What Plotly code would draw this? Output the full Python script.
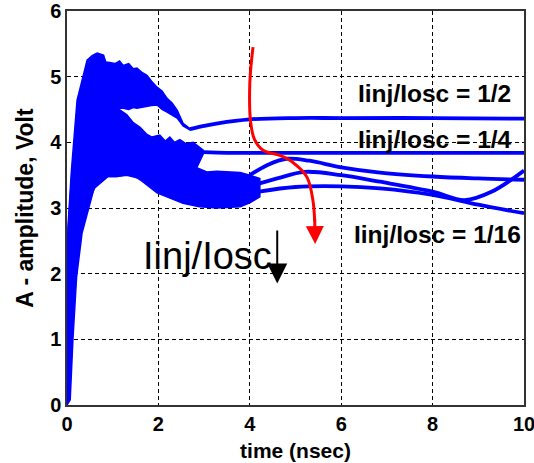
import plotly.graph_objects as go

# Time axis in ns, amplitude in volts
x_ticks = [0, 2, 4, 6, 8, 10]
y_ticks = [0, 1, 2, 3, 4, 5, 6]

# Iinj/Iosc = 1/2 : fast oscillating envelope, then settled trace
c1_env_t = [0, 0.02, 0.1, 0.22, 0.44, 0.55, 0.66, 0.8, 0.85, 0.9, 1.05, 1.15, 1.23, 1.35, 1.45, 1.53,
            1.65, 1.75, 1.85, 1.97, 2.08, 2.19, 2.3, 2.41, 2.54, 2.69]
c1_env_hi = [0, 2.7, 3.6, 4.64, 5.25, 5.32, 5.36, 5.33, 5.22, 5.22, 5.2, 5.24, 5.17, 5.2, 5.12, 5.13,
             5.06, 5.02, 4.93, 4.84, 4.78, 4.67, 4.6, 4.49, 4.29, 4.21]
c1_env_lo = [0, 0.5, 2.0, 3.0, 3.6, 3.8, 4.0, 4.3, 4.45, 4.61, 4.55, 4.52, 4.52, 4.5, 4.53, 4.52,
             4.54, 4.55, 4.56, 4.57, 4.5, 4.46, 4.42, 4.37, 4.25, 4.19]
c1_t = [2.69, 3.0, 3.3, 4.0, 5.0, 6.0, 8.0, 10.0]
c1_a = [4.2, 4.25, 4.29, 4.35, 4.37, 4.37, 4.37, 4.36]

# Iinj/Iosc = 1/4
c2_env_t = [0, 0.02, 0.1, 0.3, 0.6, 0.9, 1.1, 1.31, 1.45, 1.6, 1.75, 1.86, 2.03, 2.15, 2.25, 2.35,
            2.47, 2.6, 2.76, 2.98]
c2_env_hi = [0, 2.6, 3.5, 4.3, 4.55, 4.62, 4.52, 4.42, 4.3, 4.23, 4.12, 4.08, 4.11, 4.02, 4.08, 4.0,
             4.04, 3.98, 4.0, 3.88]
c2_env_lo = [0, 0.3, 1.5, 2.8, 3.3, 3.48, 3.48, 3.5, 3.48, 3.45, 3.4, 3.35, 3.3, 3.28, 3.25, 3.26,
             3.3, 3.4, 3.5, 3.82]
c2_t = [2.98, 3.5, 4.0, 6.0, 8.0, 10.0]
c2_a = [3.85, 3.84, 3.84, 3.84, 3.84, 3.84]

# Lower ratios share one wide envelope before separating
low_env_t = [0, 0.07, 0.13, 0.21, 0.33, 0.5, 0.58, 0.72, 1.09, 1.38, 1.6, 1.97, 2.54, 2.9, 3.06,
             3.28, 3.79, 4.0, 4.22]
low_env_lo = [0, 0.08, 1.0, 1.95, 2.62, 3.07, 3.27, 3.48, 3.48, 3.53, 3.43, 3.23, 3.07, 3.02, 3.01,
              3.0, 3.02, 3.08, 3.17]
low_env_hi = [0, 2.5, 3.4, 4.0, 4.2, 4.3, 4.3, 4.2, 4.1, 4.0, 3.9, 3.8, 3.7, 3.6, 3.55,
              3.56, 3.54, 3.5, 3.45]

c3_t = [4.0, 4.4, 4.8, 5.3, 6.0, 6.85, 8.0, 9.0, 10.0]
c3_a = [3.5, 3.66, 3.75, 3.72, 3.62, 3.54, 3.48, 3.45, 3.43]
c4_t = [4.1, 4.6, 5.2, 6.0, 6.85, 8.0, 8.7, 9.3, 10.0]
c4_a = [3.35, 3.45, 3.55, 3.5, 3.4, 3.25, 3.12, 3.25, 3.57]
c5_t = [4.2, 5.0, 6.0, 6.85, 8.0, 9.0, 10.0]
c5_a = [3.25, 3.32, 3.33, 3.3, 3.2, 3.05, 2.92]

# Red guide showing the trend with decreasing injection ratio
guide_t = [4.07, 4.0, 4.02, 4.1, 4.29, 4.66, 4.95, 5.25, 5.38, 5.42]
guide_a = [5.45, 4.9, 4.3, 4.05, 3.88, 3.8, 3.69, 3.47, 3.12, 2.8]

BLUE = "#0000ff"
FONT = "Liberation Sans, Arial, sans-serif"

fig = go.Figure()


def envelope(t, lo, hi):
    fig.add_trace(go.Scatter(
        x=list(t) + list(t)[::-1], y=list(hi) + list(lo)[::-1],
        mode="lines", fill="toself", fillcolor=BLUE,
        line=dict(color=BLUE, width=1.5), hoverinfo="skip", showlegend=False))


def trace(t, a):
    fig.add_trace(go.Scatter(
        x=t, y=a, mode="lines", line=dict(color=BLUE, width=3.8, shape="spline"),
        showlegend=False))


envelope(c1_env_t, c1_env_lo, c1_env_hi)
envelope(c2_env_t, c2_env_lo, c2_env_hi)
envelope(low_env_t, low_env_lo, low_env_hi)
for t, a in [(c1_t, c1_a), (c2_t, c2_a), (c3_t, c3_a), (c4_t, c4_a), (c5_t, c5_a)]:
    trace(t, a)

fig.add_trace(go.Scatter(
    x=guide_t, y=guide_a, mode="lines",
    line=dict(color="#ff0000", width=3, shape="spline"), showlegend=False))

label_font = dict(family=FONT, size=24.5, color="black")
annotations = [
    dict(x=5.43, y=2.45, ax=5.42, ay=2.85, xref="x", yref="y", axref="x", ayref="y",
         showarrow=True, arrowhead=2, arrowsize=1.2, arrowwidth=3, arrowcolor="#ff0000", text=""),
    dict(x=4.6, y=1.85, ax=4.6, ay=2.68, xref="x", yref="y", axref="x", ayref="y",
         showarrow=True, arrowhead=2, arrowsize=2.0, arrowwidth=2, arrowcolor="black", text=""),
    dict(x=3.07, y=2.27, xref="x", yref="y", text="Iinj/Iosc", showarrow=False,
         font=dict(family=FONT, size=38, color="black")),
    dict(x=8.05, y=4.75, xref="x", yref="y", text="<b>Iinj/Iosc = 1/2</b>", showarrow=False,
         font=label_font),
    dict(x=8.05, y=4.05, xref="x", yref="y", text="<b>Iinj/Iosc = 1/4</b>", showarrow=False,
         font=label_font),
    dict(x=8.1, y=2.59, xref="x", yref="y", text="<b>Iinj/Iosc = 1/16</b>", showarrow=False,
         font=label_font),
]

axis_common = dict(
    showgrid=True, gridcolor="black", gridwidth=1, griddash="4px,3px",
    showline=True, linecolor="#333333", linewidth=1.5, mirror=True,
    zeroline=False, ticks="", automargin=False, ticklabeloverflow="allow",
    tickfont=dict(family=FONT, size=20, color="black"),
)

fig.update_layout(
    width=534, height=463,
    margin=dict(l=67, r=10, t=11, b=58),
    paper_bgcolor="white", plot_bgcolor="white",
    showlegend=False,
    annotations=annotations,
    xaxis=dict(range=[0, 10], tickvals=x_ticks, ticktext=[f"<b>{v}</b>" for v in x_ticks],
               title=dict(text="<b>time (nsec)</b>", font=dict(family=FONT, size=21, color="black"),
                          standoff=10),
               **axis_common),
    yaxis=dict(range=[0, 6], tickvals=y_ticks, ticktext=[f"<b>{v}</b>" for v in y_ticks],
               title=dict(text="<b>A - amplitude, Volt</b>", font=dict(family=FONT, size=23, color="black"),
                          standoff=10),
               **axis_common),
)

fig.write_html("out.html")
